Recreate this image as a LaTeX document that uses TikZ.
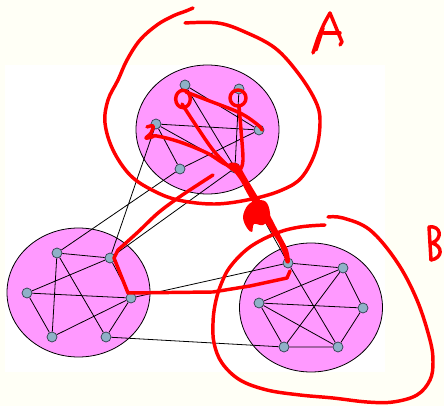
\documentclass[tikz,border=0pt]{standalone}
\usetikzlibrary{shapes.geometric}
\definecolor{cream}{HTML}{FFFFF6}
\definecolor{blob}{HTML}{FF99FF}
\definecolor{vert}{HTML}{8FB0C8}
\definecolor{vline}{HTML}{2A3A48}
\definecolor{ink}{HTML}{FF0000}
\begin{document}
\begin{tikzpicture}[x=0.75pt,y=-0.75pt,
  cluster/.style={ellipse, draw=black, line width=0.6pt, fill=blob, inner sep=0pt, minimum width=107.25pt, minimum height=96.75pt},
  vtx/.style={circle, draw=vline, fill=vert, line width=0.5pt, inner sep=0pt, minimum size=7.5pt},
  edge/.style={black, line width=0.6pt},
  pen/.style={ink, line width=2.6pt, line cap=round, line join=round}]
\useasboundingbox (0,0) rectangle (444,406);
\fill[cream] (0,0) rectangle (444,406);
\fill[white] (5,65) rectangle (385,372);
% clusters
\node[cluster] (CA) at (207.5,129.5) {};
\node[cluster] (CL) at (78.5,292.5) {};
\node[cluster] (CB) at (311,307.5) {};
% vertices A
\node[vtx] (a1) at (185,85) {};
\node[vtx] (a2) at (239,89) {};
\node[vtx] (a3) at (156,124) {};
\node[vtx] (a4) at (259,130) {};
\node[vtx] (a5) at (180,169) {};
\node[vtx] (a6) at (235,168) {};
% vertices L
\node[vtx] (l1) at (57,253) {};
\node[vtx] (l2) at (110,258) {};
\node[vtx] (l3) at (27,293) {};
\node[vtx] (l4) at (131,298) {};
\node[vtx] (l5) at (52,337) {};
\node[vtx] (l6) at (106,337) {};
% vertices B
\node[vtx] (b1) at (288,263) {};
\node[vtx] (b2) at (343,268) {};
\node[vtx] (b3) at (259,303) {};
\node[vtx] (b4) at (363,308) {};
\node[vtx] (b5) at (284,347) {};
\node[vtx] (b6) at (338,347) {};
% edges
\draw[edge] (a1)--(a4) (a1)--(a6) (a2)--(a6) (a3)--(a4) (a3)--(a5) (a3)--(a6) (a4)--(a5);
\draw[edge] (l1)--(l2) (l1)--(l5) (l1)--(l6) (l2)--(l3) (l2)--(l4) (l3)--(l4) (l3)--(l5) (l4)--(l5) (l4)--(l6);
\draw[edge] (b1)--(b2) (b1)--(b6) (b2)--(b3) (b2)--(b4) (b2)--(b5) (b3)--(b4) (b3)--(b5) (b3)--(b6) (b4)--(b6) (b5)--(b6);
\draw[edge] (a3)--(l2) (a5)--(l1) (a6)--(l2) (a6)--(b1) (l4)--(b1) (l6)--(b5);
% red annotations
\draw[pen] plot[smooth,tension=0.6] coordinates {(193,8)(186,11)(173,16)(157,25)(140,40)(127,60)(118,80)(108,100)(105,123)(113,150)(130,175)(152,190)(178,200)(215,204)(252,199)(282,190)(302,177)(316,150)(320,120)(315,100)(298,73)(275,48)(245,32)(218,23)(185,23)};
\draw[pen] plot[smooth,tension=0.6] coordinates {(328,217)(343,218)(370,230)(397,262)(417,300)(430,340)(433,362)(430,380)(417,395)(393,402)(367,402)(333,398)(300,395)(267,390)(240,380)(222,363)(214,343)(213,323)(215,305)(220,287)(230,267)(250,247)(277,233)(300,227)(325,225)};
\draw[pen] plot[smooth,tension=0.6] coordinates {(213,175)(196,186)(178,198)(158,213)(138,232)(118,250)} -- (114,258) -- (128,293) -- (213,292) -- (250,286) -- (287,278) -- (290,271);
\draw[pen] (183,99) ellipse [x radius=5.5pt, y radius=6.5pt];
\draw[pen] (238,98) ellipse [x radius=6pt, y radius=6pt];
\draw[pen] plot[smooth,tension=0.6] coordinates {(186,92)(207,100)(240,113)(258,125)(262,130)};
\draw[pen] plot[smooth,tension=0.6] coordinates {(239,106)(241,130)(243,160)(240,170)};
\draw[pen] plot[smooth,tension=0.6] coordinates {(182,104)(197,127)(213,150)(227,165)(237,172)};
\draw[pen] plot[smooth,tension=0.6] coordinates {(147,127)(153,126)(151,133)(146,138)(152,137)(157,136)(180,142)(207,153)(223,163)(234,168)};
\fill[ink] plot[smooth cycle,tension=0.5] coordinates {(229,164)(240,180)(247,193)(257,210)(270,230)(278,242)(283,253)(286,263)(290,262)(288,250)(283,240)(276,227)(266,208)(258,197)(246,177)(238,164)};
\fill[ink] plot[smooth cycle,tension=0.6] coordinates {(248,205)(243,217)(247,228)(252,232)(254,224)(263,225)(270,217)(267,203)(258,200)};
% letter A
\draw[pen] plot[smooth,tension=0.5] coordinates {(313,53)(318,38)(324,24)(330,13)};
\draw[pen] (316,50) -- (323,28);
\draw[pen] (330,13) .. controls (336,28) .. (342,42) -- (340,45);
\draw[pen] (324,33) -- (340,33);
% letter B
\draw[pen] (429,227) -- (431,260);
\draw[pen] (429,227) .. controls (441,225) and (443,239) .. (432,243) .. controls (443,246) and (443,258) .. (431,260);
\end{tikzpicture}
\end{document}
